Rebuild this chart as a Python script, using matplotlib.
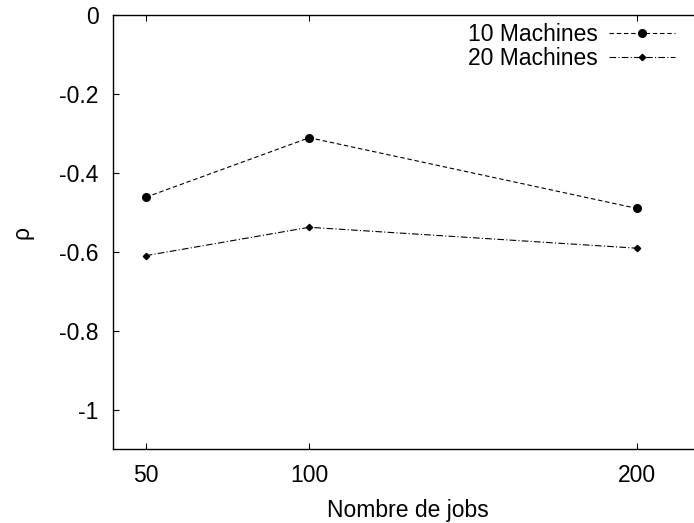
import matplotlib
matplotlib.use("Agg")
import matplotlib.pyplot as plt

plt.rcParams['font.family'] = ['Liberation Sans', 'DejaVu Sans']

# data
jobs = [50, 100, 200]
rho_10 = [-0.462, -0.311, -0.490]
rho_20 = [-0.610, -0.538, -0.591]
y_ticks = [0, -0.2, -0.4, -0.6, -0.8, -1]
y_tick_labels = ['0', '-0.2', '-0.4', '-0.6', '-0.8', '-1']

FS = 16.5
W, H = 694, 523
fig = plt.figure(figsize=(W / 100, H / 100), dpi=100)

# plot area runs past the right edge of the image (cropped like the original)
left, right, top, bottom = 113, 702, 15, 449
ax = fig.add_axes([left / W, 1 - bottom / H, (right - left) / W, (bottom - top) / H])

ax.plot(jobs, rho_10, color='black', lw=0.8, dashes=(4, 2.5),
        marker='o', ms=5.5, label='10 Machines')
ax.plot(jobs, rho_20, color='black', lw=0.8, dashes=(6, 2, 1, 2),
        marker='D', ms=3.2, label='20 Machines')

ax.set_xlim(40, 220)
ax.set_ylim(-1.1, 0)
ax.set_xticks(jobs)
ax.set_yticks(y_ticks)
ax.set_yticklabels(y_tick_labels)

for s in ax.spines.values():
    s.set_linewidth(1.0)
ax.tick_params(direction='in', length=4.5, width=0.8, labelsize=FS,
               top=True, right=True)
ax.tick_params(axis='y', pad=10.5)
ax.tick_params(axis='x', pad=11)

ax.set_xlabel('Nombre de jobs', fontsize=FS)
ax.set_ylabel('ρ', fontsize=FS)
ax.xaxis.set_label_coords((408 - left) / (right - left), -(510 - bottom) / (bottom - top), transform=ax.transAxes)
ax.xaxis.label.set_va('center')
ax.yaxis.set_label_coords(-(left - 22) / (right - left), 0.5)
ax.yaxis.label.set_va('center')

ax.legend(loc='upper right', bbox_to_anchor=(675 / W, 1 - 23 / H),
          bbox_transform=fig.transFigure, frameon=False, markerfirst=False,
          fontsize=FS, handlelength=2.9, handletextpad=0.45,
          borderpad=0, borderaxespad=0, labelspacing=0.05)

fig.savefig('out.png', dpi=100)
